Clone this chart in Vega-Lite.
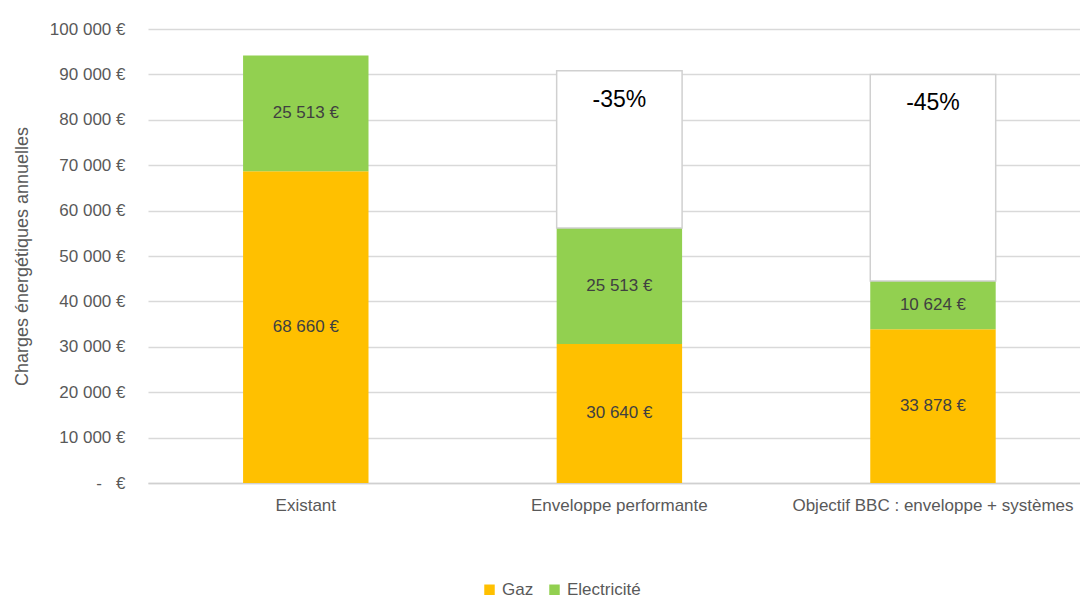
{
  "$schema": "https://vega.github.io/schema/vega-lite/v6.json",
  "autosize": "none",
  "width": 932,
  "height": 454,
  "padding": {"left": 148, "top": 29, "right": 0, "bottom": 116},
  "background": "white",
  "config": {
    "view": {"stroke": null},
    "font": "Liberation Sans Narrow, Arial Narrow, Liberation Sans, sans-serif"
  },
  "datasets": {
    "charges": [
      {"scenario": "Existant", "energie": "Gaz", "montant": 68660},
      {"scenario": "Existant", "energie": "Electricité", "montant": 25513},
      {"scenario": "Enveloppe performante", "energie": "Gaz", "montant": 30640},
      {"scenario": "Enveloppe performante", "energie": "Electricité", "montant": 25513},
      {"scenario": "Objectif BBC : enveloppe + systèmes", "energie": "Gaz", "montant": 33878},
      {"scenario": "Objectif BBC : enveloppe + systèmes", "energie": "Electricité", "montant": 10624}
    ],
    "reductions": [
      {"scenario": "Enveloppe performante", "bas": 56153, "haut": 90800, "gain": "-35%"},
      {"scenario": "Objectif BBC : enveloppe + systèmes", "bas": 44502, "haut": 90000, "gain": "-45%"}
    ]
  },
  "encoding": {
    "x": {
      "field": "scenario",
      "type": "nominal",
      "sort": ["Existant", "Enveloppe performante", "Objectif BBC : enveloppe + systèmes"],
      "scale": {"paddingInner": 0.6, "paddingOuter": 0.286, "align": 0.53},
      "axis": {
        "title": null,
        "labelAngle": 0,
        "labelFontSize": 17,
        "labelColor": "#595959",
        "labelPadding": 14,
        "labelLimit": 0,
        "labelOverlap": false,
        "ticks": false,
        "domainColor": "#d0d0d0",
        "domainWidth": 1.5,
        "grid": false
      }
    }
  },
  "layer": [
    {
      "data": {"name": "charges"},
      "transform": [
        {"calculate": "datum.energie === 'Gaz' ? 0 : 1", "as": "ordre"},
        {"stack": "montant", "groupby": ["scenario"], "sort": [{"field": "ordre", "order": "ascending"}], "as": ["y0", "y1"]}
      ],
      "mark": {"type": "bar"},
      "encoding": {
        "y": {
          "field": "y0",
          "type": "quantitative",
          "scale": {"domain": [0, 100000], "nice": false},
          "axis": {
            "values": [0, 10000, 20000, 30000, 40000, 50000, 60000, 70000, 80000, 90000, 100000],
            "labelExpr": "datum.value === 0 ? '-\u00a0\u00a0\u00a0€' : replace(format(datum.value, ',d'), ',', ' ') + ' €'",
            "labelFontSize": 17,
            "labelColor": "#595959",
            "labelPadding": 23,
            "ticks": false,
            "domain": false,
            "gridColor": "#d9d9d9",
            "gridWidth": 1.5,
            "title": "Charges énergétiques annuelles",
            "titleFontSize": 18,
            "titleFontWeight": "normal",
            "titleColor": "#595959",
            "titleX": -126,
            "titleY": 227,
            "titleAngle": 270,
            "titleBaseline": "middle",
            "titleAlign": "center"
          }
        },
        "y2": {"field": "y1"},
        "color": {
          "field": "energie",
          "type": "nominal",
          "scale": {"domain": ["Gaz", "Electricité"], "range": ["#FFC000", "#92D050"]},
          "legend": {
            "title": null,
            "orient": "none",
            "direction": "horizontal",
            "legendX": 333,
            "legendY": 552,
            "symbolType": "square",
            "symbolSize": 110,
            "symbolStrokeWidth": 0,
            "labelFontSize": 17,
            "labelColor": "#595959",
            "labelOffset": 4,
            "columnPadding": 12
          }
        }
      }
    },
    {
      "data": {"name": "charges"},
      "transform": [
        {"calculate": "datum.energie === 'Gaz' ? 0 : 1", "as": "ordre"},
        {"stack": "montant", "groupby": ["scenario"], "sort": [{"field": "ordre", "order": "ascending"}], "as": ["y0", "y1"]},
        {"calculate": "(datum.y0 + datum.y1) / 2", "as": "milieu"},
        {"calculate": "replace(format(datum.montant, ',d'), ',', ' ') + ' €'", "as": "etiquette"}
      ],
      "mark": {"type": "text", "fontSize": 17, "color": "#404040", "baseline": "middle"},
      "encoding": {
        "y": {"field": "milieu", "type": "quantitative"},
        "text": {"field": "etiquette"}
      }
    },
    {
      "data": {"name": "reductions"},
      "mark": {"type": "bar", "fill": "white", "stroke": "#d0d0d0", "strokeWidth": 1.5},
      "encoding": {
        "y": {"field": "bas", "type": "quantitative"},
        "y2": {"field": "haut"}
      }
    },
    {
      "data": {"name": "reductions"},
      "mark": {"type": "text", "fontSize": 23, "color": "#000000", "baseline": "top", "dy": 18},
      "encoding": {
        "y": {"field": "haut", "type": "quantitative"},
        "text": {"field": "gain"}
      }
    }
  ]
}
